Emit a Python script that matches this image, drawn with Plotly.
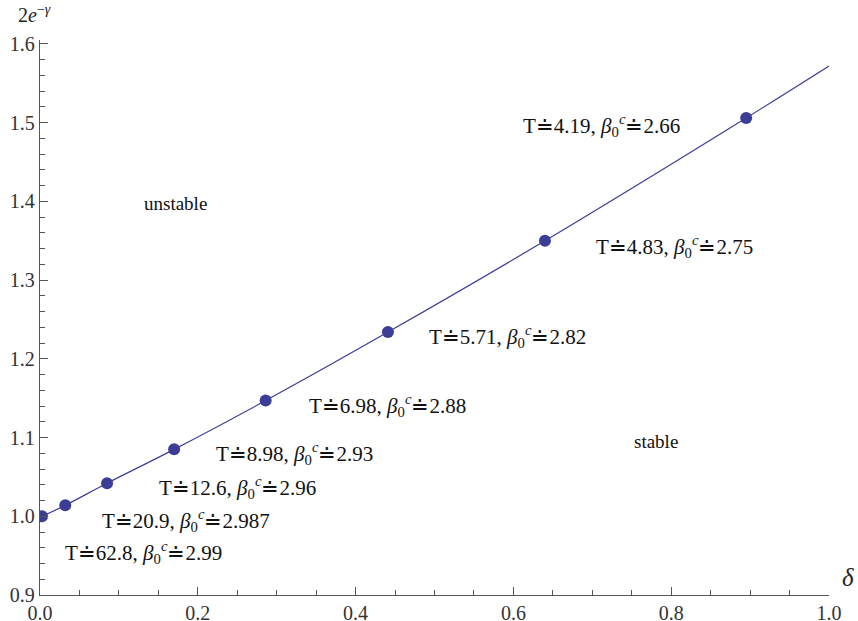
import plotly.graph_objects as go

# data points (delta, 2e^{-gamma})
delta = [0.0025, 0.032, 0.085, 0.170, 0.286, 0.441, 0.640, 0.895]
value = [1.000, 1.014, 1.042, 1.085, 1.147, 1.234, 1.350, 1.506]
# curve
curve_x = [0.0, 0.0025, 0.032, 0.085, 0.170, 0.286, 0.441, 0.640, 0.895, 1.0]
curve_y = [0.999, 1.000, 1.014, 1.042, 1.085, 1.147, 1.234, 1.350, 1.506, 1.572]

T_vals = ["4.19", "4.83", "5.71", "6.98", "8.98", "12.6", "20.9", "62.8"]
beta_vals = ["2.66", "2.75", "2.82", "2.88", "2.93", "2.96", "2.987", "2.99"]
label_x = [0.712, 0.804, 0.592, 0.441, 0.323, 0.250, 0.185, 0.131]
label_y = [1.497, 1.343, 1.228, 1.141, 1.080, 1.036, 0.995, 0.954]

region_names = ["unstable", "stable"]
region_x = [0.172, 0.781]
region_y = [1.397, 1.095]

blue = "#3c3d97"
axc = "#555555"
font = "Liberation Serif"

fig = go.Figure()
fig.add_trace(go.Scatter(x=curve_x, y=curve_y, mode="lines",
                         line=dict(color=blue, width=1.2, shape="spline"),
                         hoverinfo="skip", showlegend=False))
fig.add_trace(go.Scatter(x=delta, y=value, mode="markers",
                         marker=dict(color=blue, size=12),
                         showlegend=False))

for t, b, x, y in zip(T_vals, beta_vals, label_x, label_y):
    fig.add_annotation(x=x, y=y, xref="x", yref="y", showarrow=False,
                       text=f"T\u2250{t}, <i>\u03b2</i><sub>0</sub><sup><i>c</i></sup>\u2250{b}",
                       font=dict(family=font, size=21, color="#111"),
                       xanchor="center", yanchor="middle")

for n, x, y in zip(region_names, region_x, region_y):
    fig.add_annotation(x=x, y=y, xref="x", yref="y", showarrow=False, text=n,
                       font=dict(family=font, size=19, color="#111"),
                       xanchor="center", yanchor="middle")

fig.add_annotation(x=-0.0076, y=1.047, xref="paper", yref="paper", showarrow=False,
                   text="2<i>e</i><sup>\u2212<i>\u03b3</i></sup>",
                   font=dict(family=font, size=20, color="#222"),
                   xanchor="center", yanchor="middle")
fig.add_annotation(x=1.014, y=0.032, xref="paper", yref="paper", showarrow=False,
                   text="<i>\u03b4</i>",
                   font=dict(family=font, size=25, color="#222"),
                   xanchor="left", yanchor="middle")

fig.update_layout(
    width=858, height=621,
    margin=dict(l=40, r=29, t=40, b=26, autoexpand=False),
    plot_bgcolor="white", paper_bgcolor="white",
    font=dict(family=font, size=20, color="#333"),
)
fig.update_xaxes(range=[0, 1.0], showgrid=False, zeroline=False, automargin=False,
                 showline=True, linecolor=axc, linewidth=1.3,
                 ticks="inside", ticklen=8, tickcolor=axc, tickwidth=1,
                 tickfont=dict(family=font, size=20, color="#333"),
                 tickvals=[0, 0.2, 0.4, 0.6, 0.8, 1.0],
                 ticktext=["0.0", "0.2", "0.4", "0.6", "0.8", "1.0"],
                 minor=dict(dtick=0.05, tick0=0, ticks="inside", ticklen=5,
                            tickcolor=axc, showgrid=False))
fig.update_yaxes(range=[0.9, 1.605], showgrid=False, zeroline=False, automargin=False,
                 showline=True, linecolor=axc, linewidth=1.3,
                 ticks="inside", ticklen=8, tickcolor=axc, tickwidth=1,
                 tickfont=dict(family=font, size=20, color="#333"),
                 tickvals=[0.9, 1.0, 1.1, 1.2, 1.3, 1.4, 1.5, 1.6],
                 ticktext=["0.9", "1.0", "1.1", "1.2", "1.3", "1.4", "1.5", "1.6"],
                 minor=dict(dtick=0.02, tick0=0.9, ticks="inside", ticklen=5,
                            tickcolor=axc, showgrid=False))

fig.write_html("out.html", config={"displayModeBar": False},
               post_script="document.body.style.margin='0px';document.body.style.padding='0px';")
